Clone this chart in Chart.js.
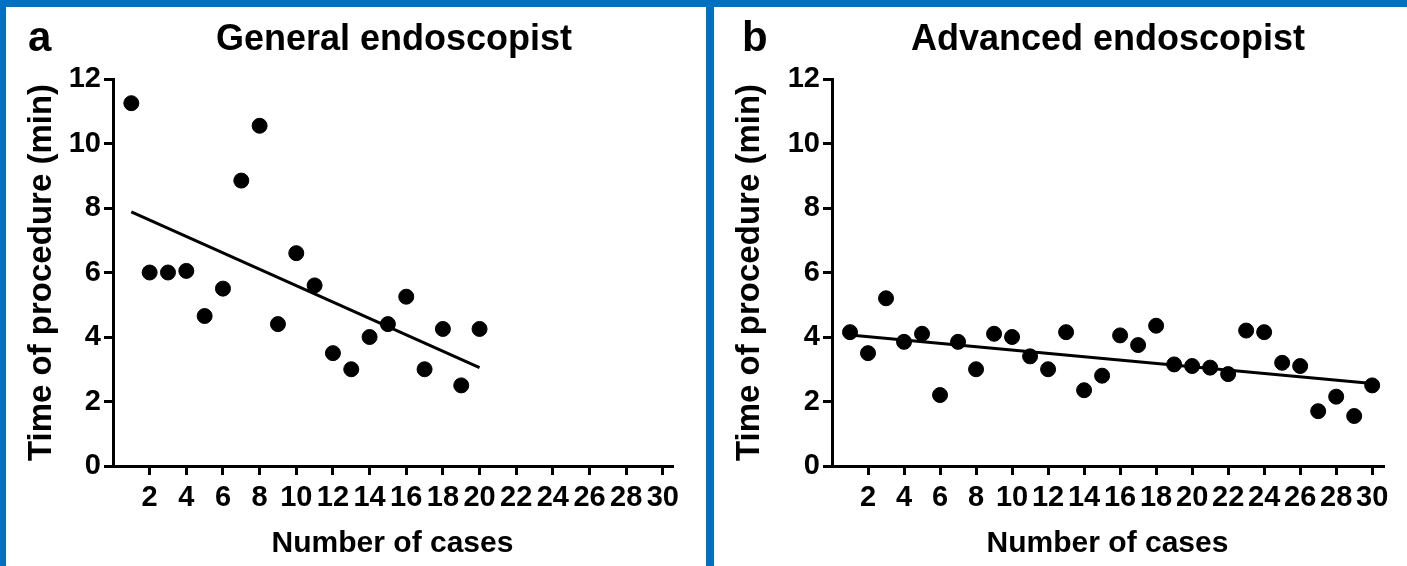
<!DOCTYPE html>
<html lang="en">
<head>
    <meta charset="UTF-8">
    <title>Time of procedure by number of cases</title>
    <style>
        html, body { margin: 0; padding: 0; }
        body { width: 1407px; height: 566px; background: #0070c0; position: relative; overflow: hidden;
               font-family: 'Liberation Sans', Arial, sans-serif; font-weight: bold; }
        .panel { position: absolute; top: 7px; height: 559px; background: #fff; }
        #panelA { left: 6px; width: 700px; }
        #panelB { left: 714px; width: 693px; }
        .letter { position: absolute; top: 6px; font-size: 42px; line-height: 48px; }
        .title { position: absolute; top: 7px; font-size: 36px; line-height: 48px; text-align: center; width: 600px; }
        canvas { position: absolute; left: 0; top: 0; }
    </style>
</head>
<body>
    <div class="panel" id="panelA">
        <canvas id="chartA" width="700" height="559"></canvas>
        <div class="letter" style="left: 22px;">a</div>
        <div class="title" style="left: 88px;">General endoscopist</div>
    </div>
    <div class="panel" id="panelB">
        <canvas id="chartB" width="693" height="559"></canvas>
        <div class="letter" style="left: 28px;">b</div>
        <div class="title" style="left: 94px;">Advanced endoscopist</div>
    </div>

    <script src="https://cdn.jsdelivr.net/npm/chart.js@4.4.1/dist/chart.umd.min.js"></script>
    <script>
        // tick labels
        var xTicks = [2, 4, 6, 8, 10, 12, 14, 16, 18, 20, 22, 24, 26, 28, 30];
        var yTicks = [0, 2, 4, 6, 8, 10, 12];

        // a: general endoscopist, cases 1-20
        var generalCases = [1, 2, 3, 4, 5, 6, 7, 8, 9, 10, 11, 12, 13, 14, 15, 16, 17, 18, 19, 20];
        var generalTime = [11.25, 6.0, 6.0, 6.05, 4.65, 5.5, 8.85, 10.55, 4.4, 6.6,
                           5.6, 3.5, 3.0, 4.0, 4.4, 5.25, 3.0, 4.25, 2.5, 4.25];
        var generalTrendX = [1, 20];
        var generalTrendY = [7.88, 3.05];

        // b: advanced endoscopist, cases 1-30
        var advancedCases = [1, 2, 3, 4, 5, 6, 7, 8, 9, 10, 11, 12, 13, 14, 15,
                             16, 17, 18, 19, 20, 21, 22, 23, 24, 25, 26, 27, 28, 29, 30];
        var advancedTime = [4.15, 3.5, 5.2, 3.85, 4.1, 2.2, 3.85, 3.0, 4.1, 4.0,
                            3.4, 3.0, 4.15, 2.35, 2.8, 4.05, 3.75, 4.35, 3.15, 3.1,
                            3.05, 2.85, 4.2, 4.15, 3.2, 3.1, 1.7, 2.15, 1.55, 2.5];
        var advancedTrendX = [1, 30];
        var advancedTrendY = [4.06, 2.56];

        Chart.defaults.font.family = "'Liberation Sans', Arial, sans-serif";
        Chart.defaults.font.weight = 'bold';
        Chart.defaults.color = '#000';

        function pairs(xs, ys) {
            return xs.map(function (x, i) { return { x: x, y: ys[i] }; });
        }

        function makeChart(id, cases, times, trendX, trendY, opts) {
            var ctx = document.getElementById(id).getContext('2d');
            return new Chart(ctx, {
                type: 'scatter',
                data: {
                    datasets: [
                        {
                            data: pairs(cases, times),
                            backgroundColor: '#000',
                            borderColor: '#000',
                            pointRadius: 7.5,
                            pointHoverRadius: 7.5,
                            clip: false
                        },
                        {
                            type: 'line',
                            data: pairs(trendX, trendY),
                            borderColor: '#000',
                            borderWidth: 3,
                            pointRadius: 0,
                            fill: false,
                            clip: false
                        }
                    ]
                },
                options: {
                    responsive: false,
                    animation: false,
                    layout: { padding: { top: 72, right: opts.padRight, bottom: 0, left: 0 } },
                    plugins: { legend: { display: false }, tooltip: { enabled: false } },
                    scales: {
                        x: {
                            type: 'linear',
                            min: 0,
                            max: opts.xMax,
                            afterFit: function (s) { s.height = 100; },
                            afterBuildTicks: function (s) {
                                s.ticks = xTicks.map(function (v) { return { value: v }; });
                            },
                            border: { color: '#000', width: 3 },
                            grid: { drawOnChartArea: false, color: '#000', lineWidth: 3, tickLength: 9 },
                            ticks: { font: { size: 29 }, padding: 6, maxRotation: 0, autoSkip: false },
                            title: { display: true, text: 'Number of cases', font: { size: 30 }, padding: { bottom: 4 } }
                        },
                        y: {
                            min: 0,
                            max: 12,
                            afterFit: function (s) { s.width = opts.yWidth; },
                            afterBuildTicks: function (s) {
                                s.ticks = yTicks.map(function (v) { return { value: v }; });
                            },
                            border: { color: '#000', width: 3 },
                            grid: { drawOnChartArea: false, color: '#000', lineWidth: 3, tickLength: 9 },
                            ticks: { font: { size: 29 }, padding: 3 },
                            title: { display: true, text: 'Time of procedure (min)', font: { size: 33 }, padding: { top: 16 } }
                        }
                    }
                }
            });
        }

        makeChart('chartA', generalCases, generalTime, generalTrendX, generalTrendY,
                  { xMax: 30.5, padRight: 34, yWidth: 107 });
        makeChart('chartB', advancedCases, advancedTime, advancedTrendX, advancedTrendY,
                  { xMax: 30.6, padRight: 24, yWidth: 118 });
    </script>
</body>
</html>
